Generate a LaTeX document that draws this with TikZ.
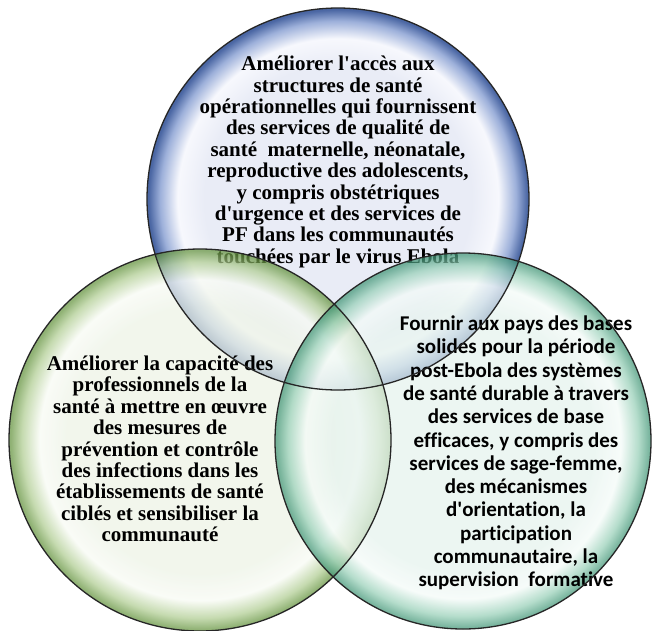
\documentclass[tikz,border=0pt]{standalone}
\usepackage{fontspec}
\setmainfont{Liberation Serif}
\newfontfamily\calib[Ligatures=NoCommon]{Carlito}
\definecolor{blueIn}{HTML}{E9ECF6}
\definecolor{blueHi}{HTML}{F7F8FD}
\definecolor{blueMid}{HTML}{9DB0DA}
\definecolor{blueRim}{HTML}{4A66A3}
\definecolor{greenIn}{HTML}{EDF3E6}
\definecolor{greenHi}{HTML}{F8FBF4}
\definecolor{greenMid}{HTML}{B0CD92}
\definecolor{greenRim}{HTML}{65943F}
\definecolor{tealIn}{HTML}{E6F3EE}
\definecolor{tealHi}{HTML}{F4FBF8}
\definecolor{tealMid}{HTML}{98D0B8}
\definecolor{tealRim}{HTML}{459879}
\pgfdeclareradialshading{bluesh}{\pgfpoint{0bp}{0bp}}{color(0bp)=(blueIn); color(17.5bp)=(blueIn); color(21bp)=(blueHi); color(23.3bp)=(blueMid); color(24.8bp)=(blueRim); color(25bp)=(blueRim); color(50bp)=(blueRim)}
\pgfdeclareradialshading{greensh}{\pgfpoint{0bp}{0bp}}{color(0bp)=(greenIn); color(17.5bp)=(greenIn); color(21bp)=(greenHi); color(23.3bp)=(greenMid); color(24.8bp)=(greenRim); color(25bp)=(greenRim); color(50bp)=(greenRim)}
\pgfdeclareradialshading{tealsh}{\pgfpoint{0bp}{0bp}}{color(0bp)=(tealIn); color(17.5bp)=(tealIn); color(21bp)=(tealHi); color(23.3bp)=(tealMid); color(24.8bp)=(tealRim); color(25bp)=(tealRim); color(50bp)=(tealRim)}
\newcommand{\apos}{\textquotesingle}
\begin{document}
\begin{tikzpicture}[x=1pt,y=-1pt,
  serifbox/.style={align=center,inner sep=0pt,font=\bfseries\fontsize{21}{21.4}\selectfont},
  sansbox/.style={align=center,inner sep=0pt,font=\calib\bfseries\fontsize{21}{23.3}\selectfont},
  rim/.style={draw=black!85,line width=1.3pt}]
\useasboundingbox (0,0) rectangle (653,630);
\fill[white] (0,0) rectangle (653,630);
% top circle
\shade[shading=bluesh] (338,199) circle (191pt);
\node[serifbox] (topt) at (338,162) {Améliorer l\apos accès aux\\structures de santé\\opérationnelles qui fournissent\\des services de qualité de\\santé\ \ maternelle, néonatale,\\reproductive des adolescents,\\y compris obstétriques\\d\apos urgence et des services de\\PF dans les communautés\\touchées par le virus Ebola};
% left and right circles
\shade[shading=greensh,fill opacity=0.72] (200,440) circle (191pt);
\shade[shading=tealsh,fill opacity=0.72] (463,441) circle (188pt);
\node[serifbox] (leftt) at (160,449) {Améliorer la capacité des\\professionnels de la\\santé à mettre en œuvre\\des mesures de\\prévention et contrôle\\des infections dans les\\établissements de santé\\ciblés et sensibiliser la\\communauté};
\node[sansbox] (rightt) at (516,453) {Fournir aux pays des bases\\solides pour la période\\post-Ebola des systèmes\\de santé durable à travers\\des services de base\\efficaces, y compris des\\services de sage-femme,\\des mécanismes\\d\apos orientation, la\\participation\\communautaire, la\\supervision\ \ formative};
% outlines
\draw[rim] (338,199) circle (191pt);
\draw[rim] (200,440) circle (191pt);
\draw[rim] (463,441) circle (188pt);
\end{tikzpicture}
\end{document}
